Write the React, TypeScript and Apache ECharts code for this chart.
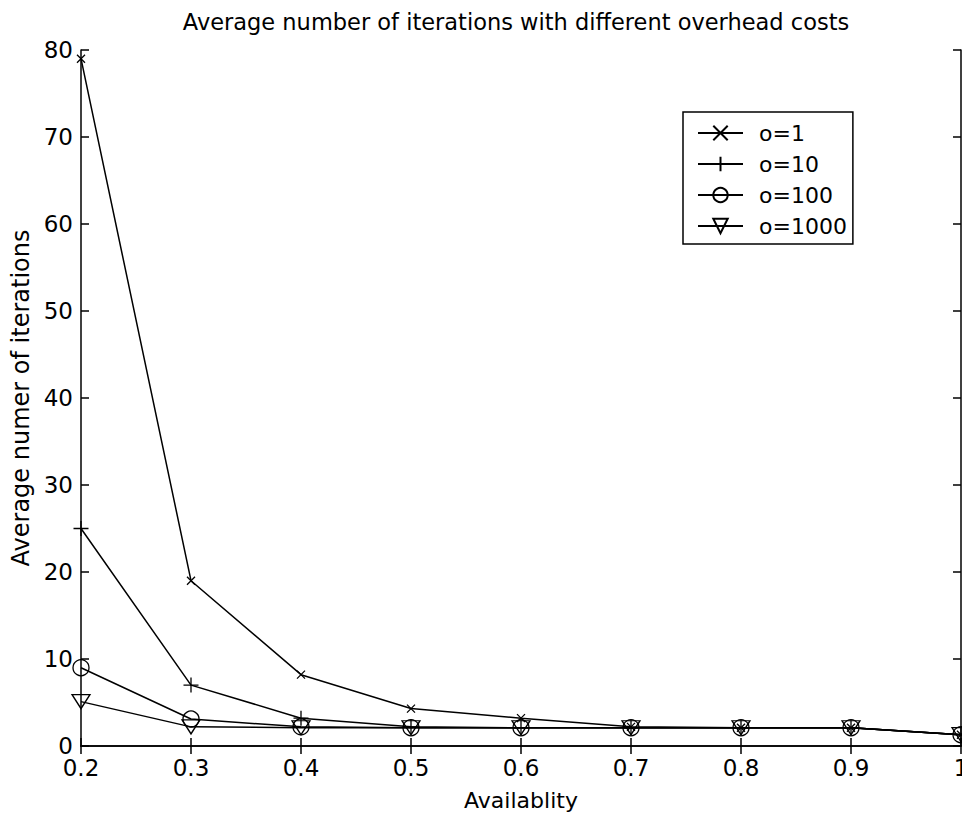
import React, { useEffect, useRef } from "react";
import * as echarts from "echarts";

// Availability values on the horizontal axis
const availability = [0.2, 0.3, 0.4, 0.5, 0.6, 0.7, 0.8, 0.9, 1.0];

// Average number of iterations for each overhead cost
const overhead1 = [79, 19, 8.2, 4.3, 3.2, 2.2, 2.1, 2.1, 1.3];
const overhead10 = [25, 7, 3.2, 2.2, 2.1, 2.1, 2.1, 2.1, 1.3];
const overhead100 = [9, 3.1, 2.2, 2.1, 2.1, 2.1, 2.1, 2.1, 1.3];
const overhead1000 = [5.1, 2.2, 2.1, 2.1, 2.1, 2.1, 2.1, 2.1, 1.3];

const seriesNames = ["o=1", "o=10", "o=100", "o=1000"];

const FONT = "DejaVu Sans";

// Hollow marker shapes, stroked only
const SYM_X = "path://M0,0L10,10M10,0L0,10";
const SYM_PLUS = "path://M5,0L5,10M0,5L10,5";
const SYM_TRI_DOWN = "path://M0,0L10,0L5,8.66Z";

function pairs(values: number[]) {
  return availability.map((x, i) => [x, values[i]]);
}

function makeSeries(
  name: string,
  values: number[],
  symbol: string,
  symbolSize: number | number[]
) {
  return {
    name,
    type: "line",
    data: pairs(values),
    symbol,
    symbolSize,
    showSymbol: true,
    showAllSymbol: true,
    clip: false,
    lineStyle: { color: "#000", width: 1.5 },
    itemStyle: { color: "transparent", borderColor: "#000", borderWidth: 1.3 },
    emphasis: { disabled: true },
  };
}

export default function App() {
  const ref = useRef<HTMLDivElement>(null);

  useEffect(() => {
    if (!ref.current) return;
    document.documentElement.style.overflow = "hidden";
    document.body.style.margin = "0";
    document.body.style.overflow = "hidden";
    const chart = echarts.init(ref.current, undefined, { renderer: "svg" });

    const axisLine = { show: true, lineStyle: { color: "#000", width: 1.5 } };
    const axisTick = {
      show: true,
      inside: true,
      length: 8,
      lineStyle: { color: "#000", width: 1.5 },
    };
    const labelStyle = { color: "#000", fontFamily: FONT, fontSize: 23 };

    chart.setOption({
      animation: false,
      backgroundColor: "#fff",
      title: {
        text: "Average number of iterations with different overhead costs",
        left: 511,
        top: 5,
        textAlign: "center",
        textStyle: {
          color: "#000",
          fontFamily: FONT,
          fontSize: 22.5,
          fontWeight: "normal",
        },
      },
      // the frame runs right up to the page's edge, so the last label is cut
      grid: {
        left: 81,
        right: 1,
        top: 50,
        bottom: 70,
        containLabel: false,
        outerBoundsMode: "none",
      },
      legend: {
        orient: "vertical",
        left: 683,
        top: 112,
        padding: [10, 6, 7, 14],
        itemWidth: 45,
        itemHeight: 18,
        itemGap: 9,
        borderColor: "#000",
        borderWidth: 1.5,
        backgroundColor: "#fff",
        selectedMode: false,
        data: seriesNames,
        textStyle: {
          color: "#000",
          fontFamily: FONT,
          fontSize: 22,
          lineHeight: 22,
          padding: [0, 0, 0, 11],
        },
      },
      xAxis: [
        {
          type: "value",
          min: 0.2,
          max: 1,
          interval: 0.1,
          position: "bottom",
          name: "Availablity",
          nameLocation: "middle",
          nameGap: 43,
          nameTextStyle: { color: "#000", fontFamily: FONT, fontSize: 22 },
          axisLine,
          axisTick,
          axisLabel: { ...labelStyle, lineHeight: 17, margin: 13 },
          splitLine: { show: false },
        },
        {
          type: "value",
          min: 0.2,
          max: 1,
          interval: 0.1,
          position: "top",
          axisLine,
          axisTick,
          axisLabel: { show: false },
          splitLine: { show: false },
        },
      ],
      yAxis: [
        {
          type: "value",
          min: 0,
          max: 80,
          interval: 10,
          position: "left",
          name: "Average numer of iterations",
          nameLocation: "middle",
          nameGap: 46,
          nameTextStyle: { color: "#000", fontFamily: FONT, fontSize: 24 },
          axisLine,
          axisTick,
          axisLabel: { ...labelStyle, lineHeight: 16, margin: 8 },
          splitLine: { show: false },
        },
        {
          type: "value",
          min: 0,
          max: 80,
          interval: 10,
          position: "right",
          axisLine,
          axisTick,
          axisLabel: { show: false },
          splitLine: { show: false },
        },
      ],
      series: [
        makeSeries(seriesNames[0], overhead1, SYM_X, 8),
        makeSeries(seriesNames[1], overhead10, SYM_PLUS, 15),
        makeSeries(seriesNames[2], overhead100, "circle", 16),
        makeSeries(seriesNames[3], overhead1000, SYM_TRI_DOWN, [18, 14]),
      ],
    });

    return () => chart.dispose();
  }, []);

  return (
    <div
      ref={ref}
      style={{ position: "fixed", left: 0, top: 0, width: 962, height: 816 }}
    />
  );
}
